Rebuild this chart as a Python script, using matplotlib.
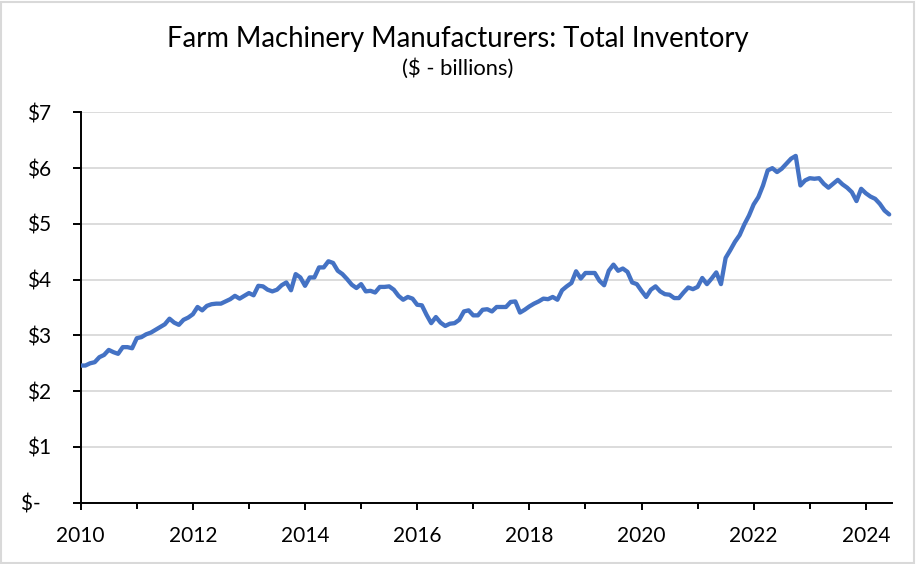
# 農機メーカー在庫の折れ線グラフ

import numpy as np
import matplotlib
matplotlib.use("Agg")
import matplotlib.pyplot as plt
from matplotlib.patches import Rectangle
from matplotlib.ticker import FixedLocator, FuncFormatter

plt.rcParams["font.family"] = ["Lato", "DejaVu Sans"]

TITLE = "Farm Machinery Manufacturers: Total Inventory"
SUBTITLE = "($ - billions)"
LINE_COLOR = "#4472C4"
GRID_COLOR = "#D9D9D9"

START_YEAR = 2010
# 月次在庫 [10億ドル] 2010年1月〜2024年6月
inventory = [
    2.46, 2.46, 2.50, 2.52, 2.61, 2.65, 2.74, 2.70, 2.67, 2.79, 2.79, 2.77,
    2.95, 2.97, 3.02, 3.05, 3.10, 3.15, 3.20, 3.30, 3.23, 3.19, 3.28, 3.32,
    3.38, 3.51, 3.45, 3.53, 3.56, 3.57, 3.57, 3.61, 3.65, 3.71, 3.66, 3.71,
    3.76, 3.72, 3.89, 3.88, 3.82, 3.79, 3.82, 3.90, 3.95, 3.81, 4.10, 4.04,
    3.89, 4.04, 4.04, 4.22, 4.22, 4.33, 4.30, 4.16, 4.10, 4.01, 3.91, 3.85,
    3.92, 3.79, 3.80, 3.77, 3.87, 3.87, 3.88, 3.82, 3.71, 3.64, 3.69, 3.66,
    3.55, 3.54, 3.37, 3.22, 3.33, 3.23, 3.17, 3.21, 3.22, 3.28, 3.43, 3.45,
    3.36, 3.36, 3.46, 3.47, 3.43, 3.51, 3.51, 3.51, 3.60, 3.61, 3.41, 3.46,
    3.52, 3.57, 3.61, 3.66, 3.65, 3.69, 3.64, 3.81, 3.88, 3.94, 4.15, 4.02,
    4.12, 4.12, 4.12, 3.98, 3.90, 4.16, 4.27, 4.16, 4.20, 4.14, 3.95, 3.92,
    3.80, 3.69, 3.82, 3.88, 3.79, 3.74, 3.73, 3.67, 3.67, 3.77, 3.86, 3.83,
    3.87, 4.03, 3.92, 4.02, 4.13, 3.92, 4.39, 4.53, 4.68, 4.80, 4.99, 5.15,
    5.35, 5.48, 5.69, 5.96, 6.00, 5.93, 5.99, 6.08, 6.17, 6.22, 5.69, 5.78,
    5.82, 5.81, 5.82, 5.72, 5.65, 5.72, 5.79, 5.71, 5.65, 5.57, 5.41, 5.63,
    5.55, 5.49, 5.45, 5.36, 5.24, 5.17,
]
y_ticks = [0, 1, 2, 3, 4, 5, 6, 7]
x_major = [2010, 2012, 2014, 2016, 2018, 2020, 2022, 2024]
x_minor = [2011, 2013, 2015, 2017, 2019, 2021, 2023]


def dollar(v, pos):
    """
    会計形式のラベル
    """
    if v == 0:
        return "$-\u2002"
    return f"${v:.0f}"


def main():
    values = np.array(inventory)
    dates = START_YEAR + np.arange(len(values)) / 12.0

    fig = plt.figure(figsize=(9.16, 5.64), dpi=100)
    ax = fig.add_axes([0.0881, 0.1087, 0.9738 - 0.0881, 0.8007 - 0.1087])

    ax.plot(dates, values, color=LINE_COLOR, linewidth=3.1, solid_joinstyle="round",
            solid_capstyle="round", zorder=3)

    ax.set_xlim(START_YEAR, START_YEAR + 173.6 / 12.0)
    ax.set_ylim(0, 7)

    ax.yaxis.set_major_locator(FixedLocator(y_ticks))
    ax.yaxis.set_major_formatter(FuncFormatter(dollar))
    ax.xaxis.set_major_locator(FixedLocator(x_major))
    ax.xaxis.set_minor_locator(FixedLocator(x_minor))
    ax.xaxis.set_major_formatter(FuncFormatter(lambda v, p: f"{v:.0f}"))

    ax.grid(axis="y", color=GRID_COLOR, linewidth=1.3, zorder=0)
    ax.set_axisbelow(True)

    for side in ["top", "right"]:
        ax.spines[side].set_visible(False)
    for side in ["left", "bottom"]:
        ax.spines[side].set_linewidth(1.4)
        ax.spines[side].set_color("black")

    ax.tick_params(axis="y", direction="out", length=5.5, width=1.4, pad=16,
                   labelsize=15, colors="black")
    ax.tick_params(axis="x", which="major", direction="out", length=5, width=1.4,
                   pad=12, labelsize=15, colors="black")
    ax.tick_params(axis="x", which="minor", direction="out", length=4, width=1.4)

    fig.text(0.5, 1 - 39.5 / 564, TITLE, ha="center", va="center", fontsize=19.8)
    fig.text(0.5, 1 - 69 / 564, SUBTITLE, ha="center", va="center", fontsize=15.8)

    # 外枠
    fig.patches.append(Rectangle((0.001, 0.002), 0.997, 0.995, transform=fig.transFigure,
                                 fill=False, edgecolor="#D9D9D9", linewidth=1.5))

    fig.savefig("out.png", dpi=100)


if __name__ == "__main__":
    main()
